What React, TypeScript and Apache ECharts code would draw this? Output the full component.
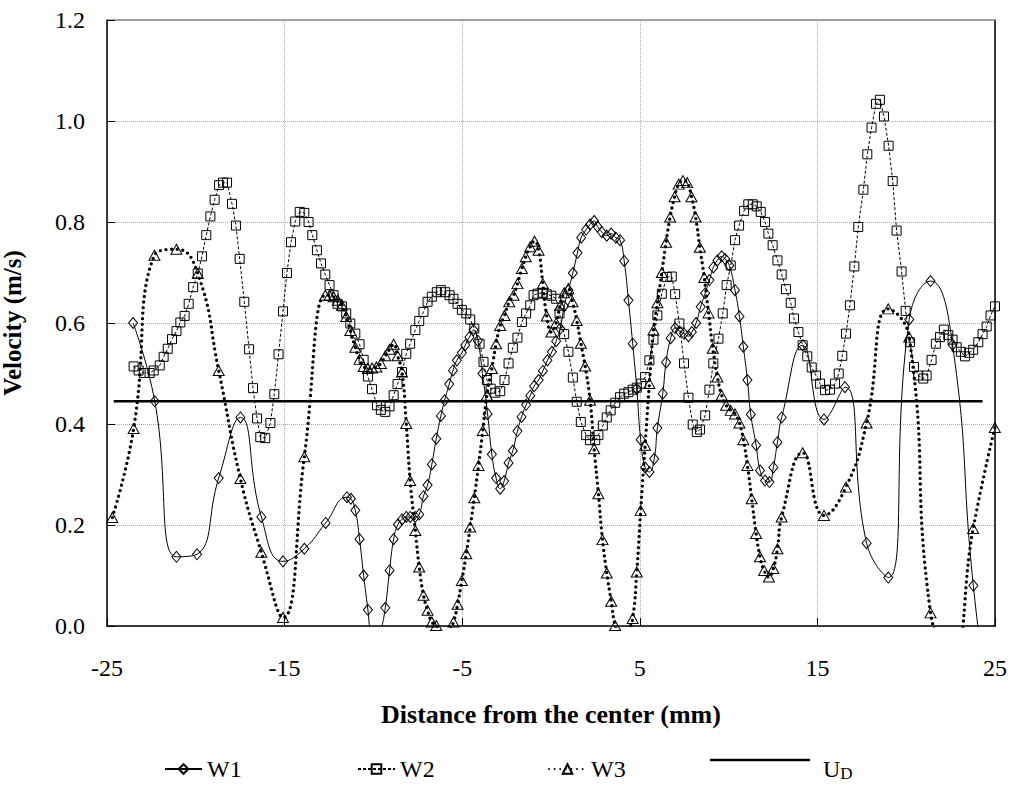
import React, { useEffect, useRef } from "react";
import * as echarts from "echarts";

const FONT = "Liberation Serif";

const xTicks = [-25, -15, -5, 5, 15, 25];
const yTicks = [0, 0.2, 0.4, 0.6, 0.8, 1.0, 1.2];

const W1: [number, number][] = [
  [-23.53, 0.6], [-22.31, 0.445], [-21.09, 0.137], [-19.93, 0.142], [-18.71, 0.293], [-17.49, 0.413],
  [-16.31, 0.216], [-15.09, 0.128], [-13.89, 0.153], [-12.69, 0.204], [-11.49, 0.255], [-11.27, 0.252],
  [-11.02, 0.229], [-10.78, 0.172], [-10.55, 0.1], [-10.31, 0.032], [-10.07, -0.04], [-9.83, -0.05],
  [-9.57, -0.01], [-9.33, 0.036], [-9.09, 0.11], [-8.86, 0.172], [-8.62, 0.201], [-8.39, 0.211],
  [-8.15, 0.216], [-7.93, 0.216], [-7.65, 0.216], [-7.42, 0.221], [-7.18, 0.257], [-6.95, 0.279],
  [-6.71, 0.32], [-6.46, 0.371], [-6.2, 0.416], [-5.99, 0.447], [-5.73, 0.479], [-5.52, 0.506],
  [-5.3, 0.526], [-5.02, 0.541], [-4.83, 0.556], [-4.59, 0.572], [-4.36, 0.586], [-4.12, 0.565],
  [-3.86, 0.5], [-3.57, 0.42], [-3.33, 0.34], [-3.09, 0.293], [-2.86, 0.272], [-2.64, 0.287],
  [-2.39, 0.323], [-2.15, 0.347], [-1.89, 0.386], [-1.66, 0.414], [-1.4, 0.438], [-1.17, 0.456],
  [-0.95, 0.475], [-0.7, 0.487], [-0.46, 0.505], [-0.2, 0.526], [0.05, 0.543], [0.29, 0.564],
  [0.52, 0.589], [0.74, 0.633], [0.98, 0.665], [1.23, 0.699], [1.49, 0.739], [1.7, 0.769],
  [1.98, 0.785], [2.2, 0.795], [2.43, 0.802], [2.62, 0.791], [2.86, 0.78], [3.14, 0.773],
  [3.39, 0.777], [3.65, 0.769], [3.89, 0.764], [4.12, 0.723], [4.36, 0.645], [4.6, 0.559],
  [4.83, 0.47], [5.05, 0.369], [5.3, 0.314], [5.54, 0.305], [5.81, 0.331], [5.99, 0.392],
  [6.29, 0.46], [6.48, 0.522], [6.74, 0.57], [6.99, 0.59], [7.25, 0.583], [7.49, 0.579],
  [7.74, 0.574], [7.93, 0.582], [8.17, 0.6], [8.43, 0.632], [8.68, 0.659], [8.92, 0.685],
  [9.14, 0.71], [9.37, 0.724], [9.61, 0.732], [9.8, 0.727], [10.04, 0.714], [10.36, 0.665],
  [10.61, 0.613], [10.83, 0.553], [11.06, 0.487], [11.25, 0.419], [11.55, 0.358], [11.77, 0.308],
  [12.05, 0.288], [12.3, 0.285], [12.52, 0.314], [12.75, 0.364], [12.99, 0.413], [14.17, 0.556],
  [15.37, 0.409], [16.55, 0.473], [17.77, 0.164], [18.99, 0.096], [20.17, 0.607], [21.37, 0.683],
  [22.61, 0.557], [23.78, 0.08], [24.98, -0.25],
];

const W2: [number, number][] = [
  [-23.5, 0.514], [-23.22, 0.506], [-22.93, 0.501], [-22.6, 0.501], [-22.37, 0.506], [-22.03, 0.516],
  [-21.81, 0.533], [-21.58, 0.549], [-21.34, 0.568], [-21.09, 0.584], [-20.87, 0.601], [-20.63, 0.614],
  [-20.4, 0.638], [-20.15, 0.671], [-19.89, 0.698], [-19.65, 0.732], [-19.41, 0.774], [-19.18, 0.811],
  [-18.94, 0.844], [-18.69, 0.873], [-18.47, 0.878], [-18.24, 0.878], [-17.96, 0.836], [-17.74, 0.793],
  [-17.53, 0.727], [-17.27, 0.642], [-17.0, 0.548], [-16.78, 0.471], [-16.55, 0.411], [-16.37, 0.374],
  [-16.09, 0.372], [-15.8, 0.402], [-15.58, 0.459], [-15.34, 0.538], [-15.09, 0.623], [-14.87, 0.699],
  [-14.64, 0.76], [-14.4, 0.801], [-14.15, 0.82], [-13.89, 0.818], [-13.65, 0.8], [-13.44, 0.774],
  [-13.18, 0.744], [-12.95, 0.718], [-12.71, 0.696], [-12.47, 0.675], [-12.24, 0.655], [-12.02, 0.638],
  [-11.77, 0.633], [-11.53, 0.619], [-11.3, 0.599], [-11.02, 0.579], [-10.78, 0.558], [-10.55, 0.527],
  [-10.31, 0.494], [-10.08, 0.469], [-9.8, 0.437], [-9.58, 0.428], [-9.33, 0.424], [-9.09, 0.435],
  [-8.86, 0.457], [-8.64, 0.479], [-8.39, 0.503], [-8.15, 0.539], [-7.93, 0.559], [-7.64, 0.586],
  [-7.42, 0.604], [-7.18, 0.622], [-6.95, 0.642], [-6.71, 0.652], [-6.43, 0.661], [-6.2, 0.665],
  [-5.96, 0.661], [-5.71, 0.655], [-5.49, 0.648], [-5.26, 0.638], [-5.02, 0.626], [-4.77, 0.619],
  [-4.55, 0.607], [-4.32, 0.589], [-4.02, 0.559], [-3.8, 0.523], [-3.61, 0.487], [-3.4, 0.47],
  [-3.14, 0.462], [-2.86, 0.465], [-2.62, 0.487], [-2.39, 0.52], [-2.15, 0.551], [-1.89, 0.571],
  [-1.64, 0.602], [-1.4, 0.619], [-1.17, 0.635], [-0.98, 0.655], [-0.76, 0.658], [-0.46, 0.66],
  [-0.24, 0.657], [0.02, 0.654], [0.29, 0.648], [0.48, 0.619], [0.74, 0.578], [0.98, 0.543],
  [1.23, 0.492], [1.45, 0.444], [1.68, 0.404], [1.98, 0.378], [2.2, 0.368], [2.49, 0.368],
  [2.67, 0.378], [2.92, 0.397], [3.14, 0.413], [3.36, 0.427], [3.62, 0.442], [3.89, 0.453],
  [4.12, 0.46], [4.36, 0.463], [4.6, 0.468], [4.83, 0.472], [5.08, 0.48], [5.3, 0.493],
  [5.54, 0.526], [5.77, 0.567], [5.99, 0.615], [6.24, 0.658], [6.52, 0.691], [6.8, 0.692],
  [6.99, 0.657], [7.23, 0.599], [7.49, 0.52], [7.74, 0.452], [7.98, 0.399], [8.21, 0.384],
  [8.39, 0.389], [8.68, 0.417], [8.92, 0.468], [9.14, 0.52], [9.43, 0.569], [9.67, 0.619],
  [9.89, 0.675], [10.12, 0.714], [10.36, 0.764], [10.59, 0.793], [10.87, 0.822], [11.11, 0.835],
  [11.36, 0.835], [11.58, 0.831], [11.81, 0.82], [12.05, 0.8], [12.24, 0.777], [12.48, 0.754],
  [12.75, 0.724], [12.99, 0.696], [13.23, 0.667], [13.5, 0.64], [13.68, 0.609], [13.93, 0.582],
  [14.17, 0.556], [14.43, 0.534], [14.68, 0.512], [14.92, 0.496], [15.15, 0.48], [15.43, 0.467],
  [15.71, 0.468], [15.99, 0.48], [16.2, 0.5], [16.4, 0.535], [16.61, 0.579], [16.83, 0.635],
  [17.08, 0.712], [17.3, 0.79], [17.59, 0.864], [17.81, 0.934], [18.05, 0.987], [18.3, 1.034],
  [18.52, 1.042], [18.75, 1.009], [19.01, 0.951], [19.24, 0.881], [19.46, 0.783], [19.74, 0.702],
  [19.97, 0.624], [20.21, 0.562], [20.44, 0.513], [20.68, 0.496], [20.96, 0.49], [21.15, 0.496],
  [21.43, 0.527], [21.67, 0.559], [21.9, 0.572], [22.12, 0.587], [22.37, 0.576], [22.61, 0.567],
  [22.84, 0.552], [23.08, 0.543], [23.31, 0.534], [23.55, 0.541], [23.77, 0.547], [24.06, 0.562],
  [24.3, 0.578], [24.53, 0.593], [24.75, 0.615], [25.0, 0.633],
];

const W3: [number, number][] = [
  [-24.7, 0.215], [-23.5, 0.391], [-22.33, 0.734], [-21.09, 0.746], [-19.89, 0.698], [-18.71, 0.506],
  [-17.49, 0.292], [-16.31, 0.146], [-15.09, 0.017], [-13.89, 0.335], [-12.71, 0.655], [-12.47, 0.655],
  [-12.24, 0.652], [-12.0, 0.645], [-11.77, 0.635], [-11.53, 0.613], [-11.3, 0.585], [-11.02, 0.552],
  [-10.78, 0.528], [-10.55, 0.514], [-10.31, 0.51], [-10.08, 0.511], [-9.83, 0.513], [-9.58, 0.52],
  [-9.33, 0.535], [-9.09, 0.548], [-8.86, 0.558], [-8.64, 0.535], [-8.39, 0.503], [-8.15, 0.401],
  [-7.93, 0.288], [-7.64, 0.189], [-7.42, 0.117], [-7.18, 0.061], [-6.95, 0.031], [-6.71, 0.008],
  [-6.46, 0.001], [-6.22, -0.012], [-5.97, -0.02], [-5.73, -0.01], [-5.49, 0.008], [-5.26, 0.043],
  [-5.02, 0.09], [-4.77, 0.143], [-4.55, 0.196], [-4.32, 0.254], [-4.08, 0.318], [-3.84, 0.387],
  [-3.61, 0.457], [-3.33, 0.51], [-3.09, 0.559], [-2.86, 0.595], [-2.62, 0.615], [-2.35, 0.642],
  [-2.11, 0.655], [-1.89, 0.678], [-1.64, 0.708], [-1.42, 0.731], [-1.17, 0.751], [-0.93, 0.762],
  [-0.7, 0.744], [-0.46, 0.678], [-0.24, 0.614], [0.02, 0.582], [0.29, 0.6], [0.52, 0.635],
  [0.74, 0.66], [0.98, 0.668], [1.21, 0.642], [1.45, 0.605], [1.68, 0.56], [1.92, 0.515],
  [2.2, 0.447], [2.43, 0.351], [2.67, 0.262], [2.9, 0.171], [3.14, 0.105], [3.39, 0.049],
  [3.61, 0.001], [3.86, -0.02], [4.11, -0.03], [4.36, -0.01], [4.6, 0.015], [4.83, 0.107],
  [5.05, 0.229], [5.3, 0.358], [5.54, 0.48], [5.77, 0.586], [5.99, 0.64], [6.24, 0.7],
  [6.48, 0.76], [6.71, 0.81], [6.96, 0.85], [7.19, 0.875], [7.43, 0.882], [7.67, 0.878],
  [7.91, 0.85], [8.14, 0.81], [8.38, 0.75], [8.63, 0.69], [8.87, 0.62], [9.11, 0.55],
  [9.37, 0.493], [9.61, 0.457], [9.86, 0.437], [10.12, 0.427], [10.36, 0.42], [10.61, 0.402],
  [10.83, 0.369], [11.06, 0.318], [11.3, 0.252], [11.55, 0.183], [11.77, 0.137], [12.0, 0.11],
  [12.27, 0.097], [12.52, 0.114], [12.75, 0.153], [12.99, 0.216], [14.17, 0.343], [15.37, 0.219],
  [16.61, 0.275], [17.77, 0.402], [18.99, 0.628], [20.17, 0.572], [21.37, 0.026], [22.57, -0.06],
  [23.77, 0.193], [24.99, 0.393],
];

const UD_VALUE = 0.445;
const UD_RANGE = [-24.62, 24.3];

export default function App() {
  const ref = useRef<HTMLDivElement>(null);
  useEffect(() => {
    if (!ref.current) return;
    const chart = echarts.init(ref.current, null, { renderer: "svg" });
    const hollow = { color: "rgba(255,255,255,0)", borderColor: "#000", borderWidth: 1 };
    const legendText = { fontFamily: FONT, fontSize: 24, color: "#000" };
    const legendBase = {
      top: 757,
      padding: 0,
      itemHeight: 12,
      textStyle: legendText,
      selectedMode: false,
    };
    chart.setOption({
      animation: false,
      backgroundColor: "#fff",
      textStyle: { fontFamily: FONT },
      grid: {
        left: 107,
        right: 19,
        top: 20,
        bottom: 167,
        containLabel: false,
        outerBoundsMode: "none",
      },
      xAxis: [
        {
          type: "value",
          min: xTicks[0],
          max: xTicks[xTicks.length - 1],
          interval: 10,
          axisLine: { onZero: false, lineStyle: { color: "#000", width: 1.5 } },
          axisTick: { inside: true, length: 8, lineStyle: { color: "#000" } },
          axisLabel: { fontFamily: FONT, fontSize: 24, color: "#000", margin: 30 },
          splitLine: { show: true, lineStyle: { type: "dotted", color: "#a8a8a8" } },
          name: "Distance from the center (mm)",
          nameLocation: "middle",
          nameGap: 75,
          nameTextStyle: { fontFamily: FONT, fontSize: 26, fontWeight: "bold", color: "#000" },
        },
        {
          type: "value",
          position: "top",
          min: xTicks[0],
          max: xTicks[xTicks.length - 1],
          interval: 10,
          axisLine: { show: true, onZero: false, lineStyle: { color: "#8a8a8a", width: 1.5 } },
          axisTick: { show: false },
          axisLabel: { show: false },
          splitLine: { show: false },
        },
      ],
      yAxis: [
        {
          type: "value",
          min: yTicks[0],
          max: yTicks[yTicks.length - 1],
          interval: 0.2,
          axisLine: { show: true, onZero: false, lineStyle: { color: "#000", width: 1.5 } },
          axisTick: { show: true, inside: true, length: 8, lineStyle: { color: "#000" } },
          axisLabel: {
            fontFamily: FONT,
            fontSize: 24,
            color: "#000",
            margin: 22,
            formatter: (v: number) => v.toFixed(1),
          },
          splitLine: { show: true, lineStyle: { type: "dotted", color: "#a8a8a8" } },
          name: "Velocity (m/s)",
          nameLocation: "middle",
          nameGap: 82,
          nameTextStyle: { fontFamily: FONT, fontSize: 25, fontWeight: "bold", color: "#000" },
        },
        {
          type: "value",
          position: "right",
          min: yTicks[0],
          max: yTicks[yTicks.length - 1],
          interval: 0.2,
          axisLine: { show: true, onZero: false, lineStyle: { color: "#000", width: 1.5 } },
          axisTick: { show: false },
          axisLabel: { show: false },
          splitLine: { show: false },
        },
      ],
      legend: [
        { ...legendBase, left: 164, itemWidth: 37, data: ["W1"] },
        { ...legendBase, left: 357, itemWidth: 37, data: ["W2"] },
        { ...legendBase, left: 548, itemWidth: 37, data: ["W3"] },
        {
          ...legendBase,
          left: 710,
          top: 757,
          itemWidth: 100,
          itemHeight: 2.5,
          data: [{ name: "UD", icon: "rect" }],
          formatter: () => "{u|U}{d|D}",
          textStyle: {
            ...legendText,
            rich: {
              u: { fontFamily: FONT, fontSize: 24, color: "#000", padding: [18, 0, 0, 8] },
              d: { fontFamily: FONT, fontSize: 17, color: "#000", padding: [26, 0, 0, 0] },
            },
          },
        },
      ],
      series: [
        {
          name: "W1",
          type: "line",
          data: W1,
          smooth: 0.5,
          symbol: "diamond",
          symbolSize: [9, 11],
          lineStyle: { color: "#000", width: 1 },
          itemStyle: hollow,
          z: 4,
        },
        {
          name: "W2",
          type: "line",
          data: W2,
          smooth: false,
          symbol: "rect",
          symbolSize: 9,
          lineStyle: { color: "#000", width: 1, type: [3, 2] },
          itemStyle: hollow,
          z: 3,
        },
        {
          name: "W3",
          type: "line",
          data: W3,
          smooth: 0.5,
          symbol: "triangle",
          symbolSize: [11, 10],
          lineStyle: { color: "#000", width: 3.4, type: [0, 5.6], cap: "round" },
          itemStyle: hollow,
          z: 2,
        },
        {
          name: "UD",
          type: "line",
          data: [
            [UD_RANGE[0], UD_VALUE],
            [UD_RANGE[1], UD_VALUE],
          ],
          symbol: "none",
          lineStyle: { color: "#000", width: 2.5 },
          itemStyle: { color: "#000" },
          z: 5,
        },
      ],
    });
    return () => chart.dispose();
  }, []);
  return (
    <div
      ref={ref}
      style={{ position: "absolute", left: 0, top: 0, width: 1014, height: 793, background: "#fff" }}
    />
  );
}
